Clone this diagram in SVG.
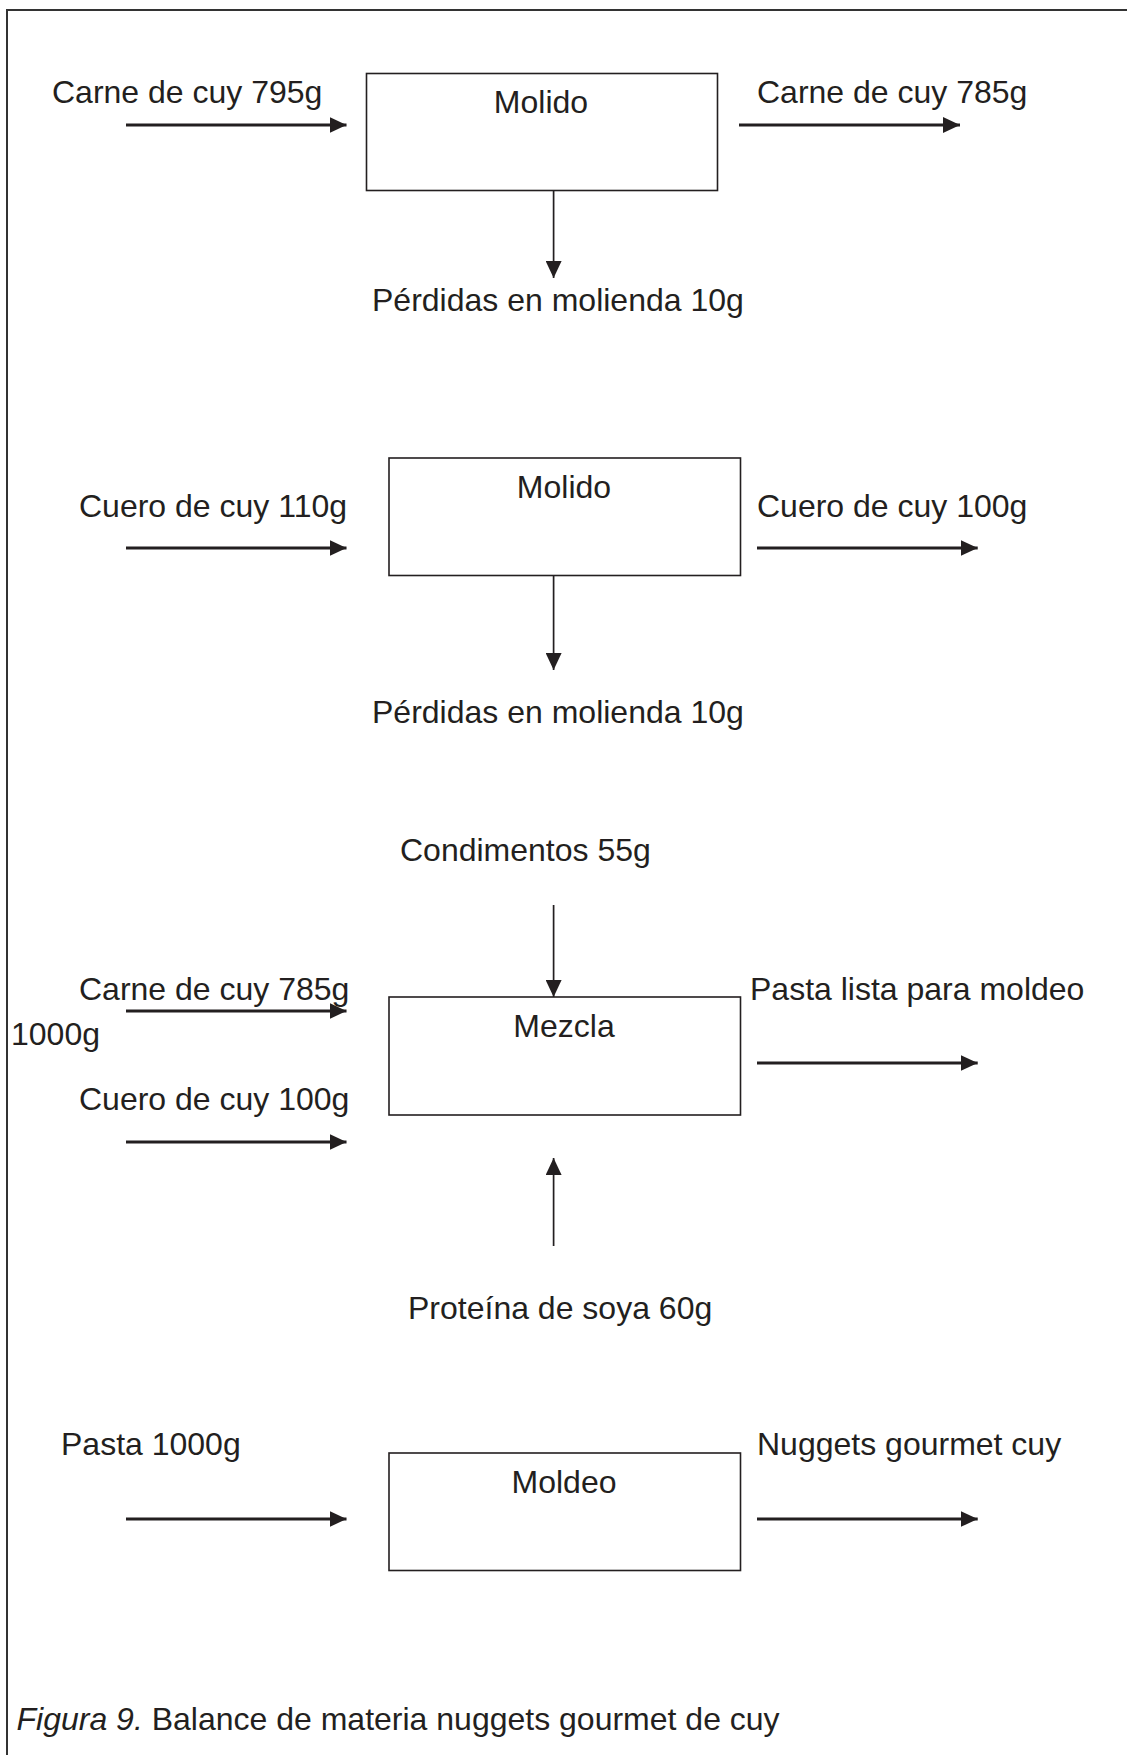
<svg xmlns="http://www.w3.org/2000/svg" width="1127" height="1755" viewBox="0 0 1127 1755">
<style>
text{font-family:"Liberation Sans",Arial,sans-serif;font-size:32px;fill:#231f20}
.c{text-anchor:middle}
.box{fill:#fff;stroke:#231f20;stroke-width:1.6}
.h{stroke:#231f20;stroke-width:2.8;fill:none}
.v{stroke:#231f20;stroke-width:1.7;fill:none}
</style>
<defs>
<marker id="ah" markerUnits="userSpaceOnUse" markerWidth="17" markerHeight="16" refX="17" refY="8" orient="auto">
<path d="M0,0 L17,8 L0,16 z" fill="#231f20"/>
</marker>
</defs>
<rect width="1127" height="1755" fill="#fff"/>
<path d="M7,1755 V10 H1127" fill="none" stroke="#333" stroke-width="2"/>

<g id="n1">
<rect class="box" x="366.5" y="73.5" width="351" height="117"/>
<text class="c" x="541" y="113">Molido</text>
</g>
<g id="n2">
<rect class="box" x="389" y="458" width="351.5" height="117.5"/>
<text class="c" x="564" y="498">Molido</text>
</g>
<g id="n3">
<rect class="box" x="389" y="997" width="351.5" height="118"/>
<text class="c" x="564" y="1037">Mezcla</text>
</g>
<g id="n4">
<rect class="box" x="389" y="1453" width="351.5" height="117.5"/>
<text class="c" x="564" y="1493">Moldeo</text>
</g>

<g id="labels">
<text x="52" y="103">Carne de cuy 795g</text>
<text x="757" y="103">Carne de cuy 785g</text>
<text x="372" y="311">Pérdidas en molienda 10g</text>
<text x="79" y="517">Cuero de cuy 110g</text>
<text x="757" y="517">Cuero de cuy 100g</text>
<text x="372" y="723">Pérdidas en molienda 10g</text>
<text x="400" y="861">Condimentos 55g</text>
<text x="79" y="1000">Carne de cuy 785g</text>
<text x="11" y="1045">1000g</text>
<text x="750" y="1000">Pasta lista para moldeo</text>
<text x="79" y="1110">Cuero de cuy 100g</text>
<text x="408" y="1319">Proteína de soya 60g</text>
<text x="61" y="1455">Pasta 1000g</text>
<text x="757" y="1455">Nuggets gourmet cuy</text>
<text x="16.5" y="1730"><tspan font-style="italic">Figura 9.</tspan> Balance de materia nuggets gourmet de cuy</text>
</g>

<g id="connectors">
<line class="h" x1="126" y1="125" x2="346.5" y2="125" marker-end="url(#ah)"/>
<line class="h" x1="739" y1="125" x2="960" y2="125" marker-end="url(#ah)"/>
<line class="v" x1="553.6" y1="191" x2="553.6" y2="278" marker-end="url(#ah)"/>
<line class="h" x1="126" y1="548" x2="346.5" y2="548" marker-end="url(#ah)"/>
<line class="h" x1="757" y1="548" x2="977.7" y2="548" marker-end="url(#ah)"/>
<line class="v" x1="553.6" y1="576" x2="553.6" y2="670" marker-end="url(#ah)"/>
<line class="v" x1="553.6" y1="905" x2="553.6" y2="997" marker-end="url(#ah)"/>
<line class="h" x1="126" y1="1011" x2="346.5" y2="1011" marker-end="url(#ah)"/>
<line class="h" x1="126" y1="1142" x2="346.5" y2="1142" marker-end="url(#ah)"/>
<line class="h" x1="757" y1="1063" x2="977.7" y2="1063" marker-end="url(#ah)"/>
<line class="v" x1="553.6" y1="1246" x2="553.6" y2="1158" marker-end="url(#ah)"/>
<line class="h" x1="126" y1="1519" x2="346.5" y2="1519" marker-end="url(#ah)"/>
<line class="h" x1="757" y1="1519" x2="977.7" y2="1519" marker-end="url(#ah)"/>
</g>
</svg>
